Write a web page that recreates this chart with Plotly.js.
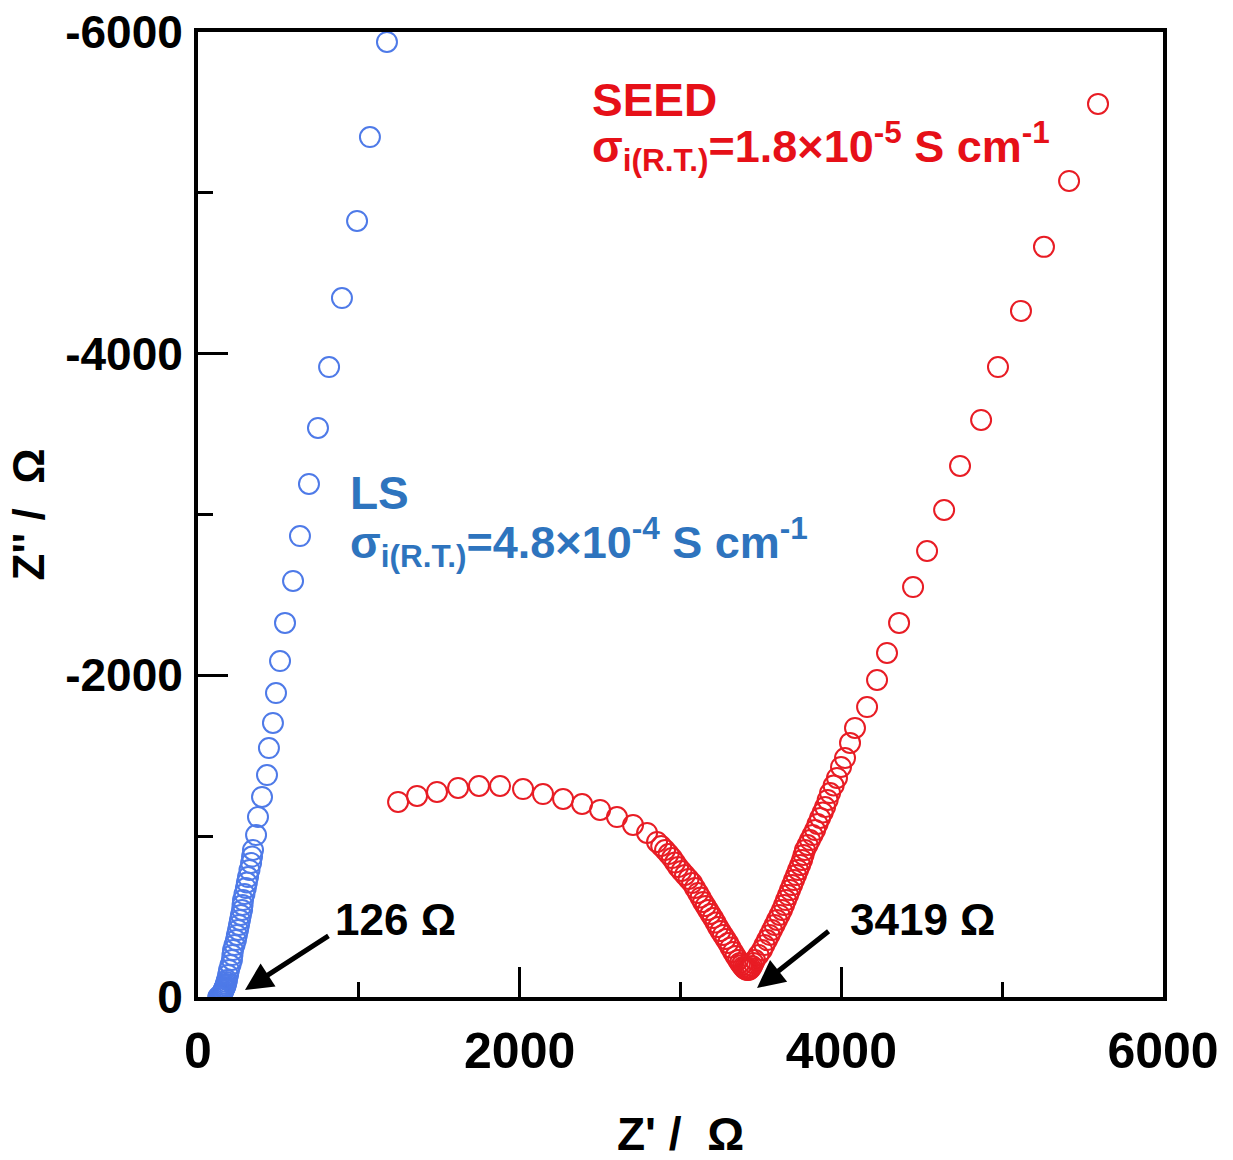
<!DOCTYPE html>
<html>
<head>
<meta charset="utf-8">
<script src="https://cdn.plot.ly/plotly-3.0.1.min.js"></script>
<style>html,body{margin:0;padding:0;background:#fff;}#plot{width:1233px;height:1160px;}</style>
</head>
<body>
<div id="plot"></div>
<script>
// LS sample (blue) : Z' and Z'' in ohm
const lsZre = [1175,1069,989,895,815,746,690,634,591,541,510,485,466,441,429,398,373,361,342,336,330,320,311,304,298,289,280,277,274,267,261,255,249,242,236,227,218,214,211,202,193,187,180,177,174,171,168,165,162,158,155,152,149,146,143,140,137,134,131,128,126];
const lsZim = [-5938,-5347,-4825,-4346,-3917,-3538,-3190,-2866,-2587,-2326,-2089,-1890,-1704,-1548,-1380,-1244,-1119,-1007,-914,-873,-833,-790,-746,-712,-678,-640,-603,-572,-541,-510,-479,-448,-417,-386,-354,-323,-292,-261,-230,-199,-168,-137,-106,-93,-81,-71,-62,-56,-50,-40,-31,-25,-19,-15,-12,-9,-6,-3,0,0,0];

// SEED sample (red)
const seedZre = [1244,1362,1486,1617,1747,1878,2021,2145,2270,2388,2500,2605,2705,2792,2854,2880,2904,2926,2947,2966,2985,3006,3028,3050,3072,3090,3109,3125,3140,3156,3171,3186,3202,3218,3233,3248,3264,3280,3296,3311,3327,3342,3358,3370,3380,3389,3398,3406,3414,3422,
  3430,3438,3445,3454,3463,3485,3507,3522,3538,3554,3569,3585,3600,3616,3631,3644,3656,3669,3681,3694,3706,3719,3731,3744,3756,3765,3774,3790,3805,3821,3837,3852,3868,3884,3899,3915,3930,3952,3973,3998,4023,4054,4085,4160,4222,4284,4359,4446,4533,4639,4738,4869,4974,5117,5260,5416,5596];
const seedZim = [-1213,-1250,-1275,-1300,-1312,-1312,-1293,-1262,-1231,-1200,-1163,-1119,-1070,-1020,-964,-939,-914,-889,-864,-836,-808,-784,-759,-734,-709,-678,-647,-619,-591,-566,-541,-516,-491,-463,-435,-410,-386,-361,-336,-308,-280,-255,-230,-212,-199,-187,-178,-172,-168,-168,
  -172,-180,-193,-211,-230,-261,-292,-323,-354,-386,-417,-448,-479,-510,-541,-572,-603,-634,-665,-696,-727,-758,-790,-821,-852,-883,-914,-945,-976,-1007,-1038,-1076,-1113,-1147,-1181,-1225,-1268,-1315,-1362,-1430,-1486,-1580,-1673,-1803,-1971,-2139,-2326,-2549,-2773,-3028,-3302,-3588,-3917,-4266,-4664,-5074,-5553];

// axis ticks
const xTickVals = [0, 2000, 4000, 6000];
const xTickText = ['0', '2000', '4000', '6000'];
const yTickVals = [0, -2000, -4000, -6000];
const yTickText = ['0', '-2000', '-4000', '-6000'];

const blue = 'rgb(78,122,232)';
const red = 'rgb(232,28,36)';
const textBlue = 'rgb(46,116,190)';
const textRed = 'rgb(230,16,24)';
const FONT = 'Liberation Sans, Arial, sans-serif';

const traces = [
  {x: lsZre, y: lsZim, type: 'scatter', mode: 'markers', name: 'LS',
   marker: {symbol: 'circle-open', size: 20, color: blue, line: {width: 2, color: blue}}},
  {x: seedZre, y: seedZim, type: 'scatter', mode: 'markers', name: 'SEED',
   marker: {symbol: 'circle-open', size: 20, color: red, line: {width: 2, color: red}}}
];

const layout = {
  width: 1233, height: 1160,
  margin: {l: 198, r: 70, t: 32, b: 163},
  paper_bgcolor: '#fff', plot_bgcolor: '#fff',
  showlegend: false,
  font: {family: FONT, color: '#000'},
  xaxis: {
    range: [0, 6000], tickvals: xTickVals, ticktext: xTickText,
    ticks: 'inside', ticklen: 30, tickwidth: 3, tickcolor: '#000',
    minor: {ticks: 'inside', ticklen: 15, tickwidth: 3, tickcolor: '#000', dtick: 1000, showgrid: false},
    showline: true, linewidth: 4, linecolor: '#000', mirror: true,
    showgrid: false, zeroline: false,
    tickfont: {family: FONT, size: 50, weight: 'bold', color: '#000'},
    ticklabelstandoff: 7,
    title: {text: "Z' /  Ω", font: {family: FONT, size: 46, weight: 'bold', color: '#000'}, standoff: 44}
  },
  yaxis: {
    range: [0, -6000], tickvals: yTickVals, ticktext: yTickText,
    ticks: 'inside', ticklen: 30, tickwidth: 3, tickcolor: '#000',
    minor: {ticks: 'inside', ticklen: 15, tickwidth: 3, tickcolor: '#000', dtick: 1000, showgrid: false},
    showline: true, linewidth: 4, linecolor: '#000', mirror: true,
    showgrid: false, zeroline: false,
    tickfont: {family: FONT, size: 46, weight: 'bold', color: '#000'},
    ticklabelstandoff: 2,
    title: {text: "Z'' /  Ω", font: {family: FONT, size: 44, weight: 'bold', color: '#000'}, standoff: 8}
  },
  annotations: [
    {xref: 'x', yref: 'y', x: 2437, y: -5578, xanchor: 'left', yanchor: 'middle', showarrow: false,
     text: 'SEED', font: {family: FONT, size: 46, weight: 'bold', color: textRed}},
    {xref: 'x', yref: 'y', x: 2437, y: -5290, xanchor: 'left', yanchor: 'middle', showarrow: false,
     text: 'σ<sub>i(R.T.)</sub>=1.8×10<sup>-5</sup> S cm<sup>-1</sup>', font: {family: FONT, size: 45, weight: 'bold', color: textRed}},
    {xref: 'x', yref: 'y', x: 933, y: -3134, xanchor: 'left', yanchor: 'middle', showarrow: false,
     text: 'LS', font: {family: FONT, size: 46, weight: 'bold', color: textBlue}},
    {xref: 'x', yref: 'y', x: 933, y: -2830, xanchor: 'left', yanchor: 'middle', showarrow: false,
     text: 'σ<sub>i(R.T.)</sub>=4.8×10<sup>-4</sup> S cm<sup>-1</sup>', font: {family: FONT, size: 45, weight: 'bold', color: textBlue}},
    {xref: 'x', yref: 'y', x: 839, y: -479, xanchor: 'left', yanchor: 'middle', showarrow: false,
     text: '126 Ω', font: {family: FONT, size: 44, weight: 'bold', color: '#000'}},
    {xref: 'x', yref: 'y', x: 4042, y: -479, xanchor: 'left', yanchor: 'middle', showarrow: false,
     text: '3419 Ω', font: {family: FONT, size: 44, weight: 'bold', color: '#000'}},
    {xref: 'x', yref: 'y', x: 292, y: -44, ax: 85, ay: -55, axref: 'pixel', ayref: 'pixel',
     text: '', showarrow: true, arrowhead: 2, arrowsize: 1.1, arrowwidth: 5, arrowcolor: '#000'},
    {xref: 'x', yref: 'y', x: 3476, y: -56, ax: 73, ay: -58, axref: 'pixel', ayref: 'pixel',
     text: '', showarrow: true, arrowhead: 2, arrowsize: 1.1, arrowwidth: 5, arrowcolor: '#000'}
  ]
};

Plotly.newPlot('plot', traces, layout, {displayModeBar: false, staticPlot: true});
</script>
</body>
</html>
